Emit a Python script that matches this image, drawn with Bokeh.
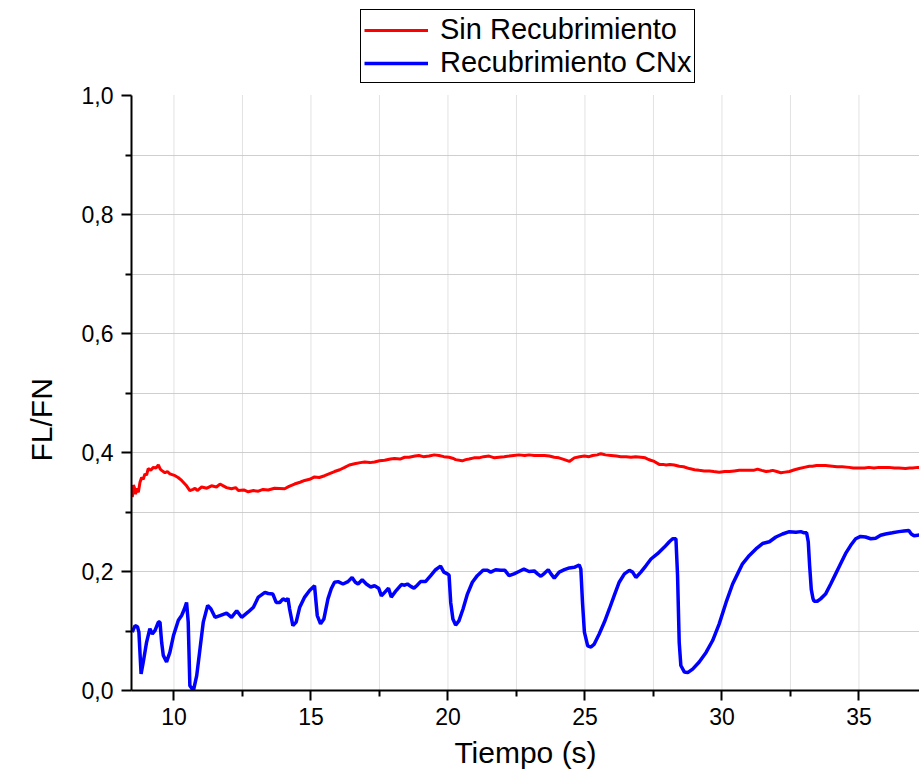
from bokeh.plotting import figure
from bokeh.models import (Range1d, FixedTicker, Legend, LegendItem, Title)
from bokeh.embed import file_html
from bokeh.resources import INLINE

# Friction coefficient (FL/FN) versus time for the two samples
t_sin = [8.48, 8.52, 8.55, 8.60, 8.64, 8.70, 8.76, 8.82, 8.88, 8.94, 9.00, 9.06, 9.15, 9.25,
         9.35, 9.43, 9.50, 9.55, 9.67, 9.76, 9.85, 10.04, 10.15, 10.28, 10.46, 10.58, 10.70,
         10.77, 10.85, 11.01, 11.20, 11.37, 11.55, 11.68, 11.80, 11.92, 12.10, 12.25, 12.35,
         12.55, 12.71, 12.90, 13.08, 13.25, 13.44, 13.67, 14.04, 14.20, 14.40, 14.60, 14.77,
         14.95, 15.13, 15.30, 15.50, 15.70, 15.86, 16.05, 16.23, 16.40, 16.59, 16.80, 16.96,
         17.15, 17.32, 17.50, 17.69, 17.90, 18.05, 18.25, 18.42, 18.58, 18.80, 18.94, 19.10,
         19.31, 19.50, 19.67, 19.85, 20.04, 20.20, 20.28, 20.52, 20.65, 20.77, 20.95, 21.13,
         21.30, 21.50, 21.70, 21.86, 22.05, 22.23, 22.40, 22.59, 22.80, 22.96, 23.15, 23.35,
         23.52, 23.70, 23.88, 24.05, 24.25, 24.43, 24.61, 24.80, 24.98, 25.15, 25.28, 25.45,
         25.58, 25.75, 25.95, 26.15, 26.31, 26.50, 26.68, 26.85, 27.04, 27.20, 27.29, 27.40,
         27.53, 27.71, 27.85, 27.96, 28.10, 28.26, 28.44, 28.60, 28.81, 29.00, 29.17, 29.35,
         29.54, 29.70, 29.90, 30.10, 30.27, 30.45, 30.63, 30.80, 31.00, 31.15, 31.30, 31.45,
         31.61, 31.75, 31.85, 32.00, 32.15, 32.30, 32.46, 32.65, 32.82, 33.00, 33.19, 33.30,
         33.45, 33.54, 33.78, 34.03, 34.20, 34.39, 34.64, 34.80, 35.00, 35.20, 35.36, 35.55,
         35.73, 35.90, 36.09, 36.30, 36.46, 36.70, 36.85, 36.95, 37.15, 37.30]
fl_sin = [0.325, 0.345, 0.342, 0.330, 0.340, 0.333, 0.350, 0.358, 0.355, 0.364, 0.362, 0.373,
          0.370, 0.375, 0.374, 0.379, 0.372, 0.370, 0.366, 0.368, 0.364, 0.361, 0.358, 0.353,
          0.344, 0.336, 0.338, 0.340, 0.336, 0.342, 0.340, 0.344, 0.342, 0.347, 0.344, 0.341,
          0.339, 0.341, 0.336, 0.337, 0.334, 0.336, 0.335, 0.338, 0.337, 0.340, 0.339, 0.343,
          0.347, 0.350, 0.353, 0.355, 0.359, 0.358, 0.361, 0.365, 0.368, 0.371, 0.375, 0.379,
          0.381, 0.383, 0.384, 0.383, 0.384, 0.386, 0.387, 0.389, 0.390, 0.389, 0.392, 0.392,
          0.394, 0.395, 0.393, 0.394, 0.396, 0.395, 0.393, 0.392, 0.390, 0.388, 0.386, 0.388,
          0.389, 0.391, 0.391, 0.393, 0.394, 0.391, 0.392, 0.393, 0.394, 0.395, 0.396, 0.395,
          0.396, 0.395, 0.395, 0.395, 0.394, 0.392, 0.391, 0.388, 0.385, 0.391, 0.393, 0.394,
          0.393, 0.395, 0.396, 0.398, 0.396, 0.395, 0.394, 0.393, 0.393, 0.392, 0.393, 0.392,
          0.391, 0.389, 0.387, 0.385, 0.380, 0.380, 0.379, 0.380, 0.379, 0.377, 0.376, 0.373,
          0.371, 0.370, 0.369, 0.369, 0.368, 0.367, 0.368, 0.368, 0.369, 0.370, 0.370, 0.370,
          0.370, 0.372, 0.370, 0.368, 0.369, 0.370, 0.368, 0.366, 0.367, 0.368, 0.371, 0.373,
          0.375, 0.377, 0.377, 0.378, 0.378, 0.378, 0.377, 0.376, 0.376, 0.375, 0.374, 0.374,
          0.374, 0.375, 0.374, 0.375, 0.375, 0.375, 0.374, 0.374, 0.373, 0.374, 0.374, 0.375,
          0.375]

t_cnx = [8.48, 8.53, 8.58, 8.67, 8.72, 8.80, 8.88, 9.00, 9.12, 9.21, 9.31, 9.43, 9.49, 9.55,
         9.61, 9.73, 9.85, 9.98, 10.16, 10.28, 10.38, 10.46, 10.52, 10.58, 10.71, 10.83, 10.95,
         11.07, 11.23, 11.35, 11.50, 11.68, 11.92, 12.10, 12.29, 12.47, 12.71, 12.90, 13.08,
         13.32, 13.44, 13.61, 13.73, 13.86, 13.98, 14.10, 14.16, 14.22, 14.34, 14.46, 14.59,
         14.77, 14.95, 15.13, 15.23, 15.35, 15.47, 15.62, 15.74, 15.86, 15.99, 16.17, 16.35,
         16.50, 16.62, 16.72, 16.87, 17.02, 17.18, 17.32, 17.47, 17.57, 17.69, 17.83, 17.93,
         18.11, 18.30, 18.42, 18.52, 18.64, 18.76, 18.88, 19.00, 19.18, 19.37, 19.55, 19.73,
         19.85, 19.98, 20.04, 20.10, 20.18, 20.28, 20.40, 20.55, 20.71, 20.89, 21.07, 21.28,
         21.44, 21.56, 21.74, 21.92, 22.08, 22.23, 22.41, 22.59, 22.77, 22.96, 23.15, 23.27,
         23.39, 23.52, 23.66, 23.76, 23.88, 24.06, 24.25, 24.43, 24.61, 24.79, 24.85, 24.91,
         24.98, 25.10, 25.22, 25.34, 25.52, 25.71, 25.89, 26.07, 26.25, 26.44, 26.62, 26.74,
         26.86, 27.04, 27.23, 27.41, 27.65, 27.90, 28.08, 28.20, 28.32, 28.38, 28.44, 28.50,
         28.63, 28.75, 28.93, 29.17, 29.42, 29.66, 29.90, 30.15, 30.39, 30.57, 30.75, 31.00,
         31.24, 31.48, 31.73, 31.97, 32.21, 32.46, 32.70, 32.88, 33.00, 33.09, 33.15, 33.20,
         33.26, 33.32, 33.36, 33.48, 33.60, 33.78, 33.97, 34.15, 34.33, 34.51, 34.70, 34.88,
         35.06, 35.24, 35.43, 35.61, 35.79, 35.97, 36.22, 36.46, 36.64, 36.82, 36.91, 37.01,
         37.15, 37.30]
fl_cnx = [0.098, 0.104, 0.109, 0.107, 0.098, 0.028, 0.048, 0.081, 0.104, 0.095, 0.101, 0.115,
          0.115, 0.081, 0.059, 0.048, 0.064, 0.092, 0.118, 0.126, 0.137, 0.148, 0.115, 0.008,
          0.000, 0.025, 0.070, 0.115, 0.143, 0.137, 0.123, 0.126, 0.130, 0.123, 0.134, 0.123,
          0.132, 0.140, 0.157, 0.165, 0.163, 0.162, 0.148, 0.148, 0.154, 0.151, 0.155, 0.137,
          0.109, 0.115, 0.140, 0.157, 0.168, 0.176, 0.126, 0.112, 0.120, 0.154, 0.171, 0.182,
          0.183, 0.179, 0.183, 0.190, 0.182, 0.179, 0.186, 0.179, 0.174, 0.176, 0.172, 0.159,
          0.165, 0.172, 0.157, 0.168, 0.178, 0.177, 0.179, 0.175, 0.172, 0.177, 0.183, 0.183,
          0.193, 0.203, 0.209, 0.199, 0.196, 0.194, 0.148, 0.120, 0.110, 0.117, 0.137, 0.162,
          0.182, 0.193, 0.202, 0.202, 0.199, 0.203, 0.202, 0.202, 0.193, 0.196, 0.200, 0.204,
          0.200, 0.201, 0.196, 0.192, 0.197, 0.203, 0.196, 0.189, 0.199, 0.203, 0.206, 0.207,
          0.211, 0.204, 0.148, 0.098, 0.075, 0.073, 0.078, 0.095, 0.115, 0.137, 0.160, 0.182,
          0.196, 0.202, 0.199, 0.190, 0.199, 0.210, 0.221, 0.230, 0.241, 0.250, 0.255, 0.255,
          0.193, 0.081, 0.042, 0.031, 0.030, 0.036, 0.048, 0.064, 0.084, 0.112, 0.148, 0.179,
          0.196, 0.213, 0.227, 0.238, 0.247, 0.250, 0.258, 0.263, 0.267, 0.266, 0.267, 0.265,
          0.265, 0.250, 0.210, 0.170, 0.155, 0.150, 0.150, 0.154, 0.162, 0.179, 0.196, 0.213,
          0.230, 0.244, 0.255, 0.259, 0.258, 0.255, 0.256, 0.261, 0.263, 0.265, 0.267, 0.268,
          0.269, 0.263, 0.260, 0.261, 0.262]

series_labels = ["Sin Recubrimiento", "Recubrimiento CNx"]
x_ticks = [10, 15, 20, 25, 30, 35]
x_minor = [12.5, 17.5, 22.5, 27.5, 32.5, 37.5]
y_ticks = [0.0, 0.2, 0.4, 0.6, 0.8, 1.0]
y_minor = [0.1, 0.3, 0.5, 0.7, 0.9]
y_tick_labels = ["0,0", "0,2", "0,4", "0,6", "0,8", "1,0"]

FONT = "Liberation Sans"

# The data area runs from 0 to 1; the range above 1 leaves room for the legend
Y_TOP = 1.0 + 95.0 / 595.0

p = figure(width=919, height=776, output_backend="svg", toolbar_location=None,
           x_range=Range1d(8.45, 37.21), y_range=Range1d(0, Y_TOP),
           min_border_left=131, min_border_right=0, min_border_top=0,
           min_border_bottom=86)
p.outline_line_color = None
p.background_fill_color = "white"
p.border_fill_color = "white"

# axes
p.xaxis.ticker = FixedTicker(ticks=x_ticks, minor_ticks=x_minor)
p.yaxis.ticker = FixedTicker(ticks=y_ticks, minor_ticks=y_minor)
p.yaxis.bounds = (0, 1.0)
p.yaxis.major_label_overrides = {v: s for v, s in zip(y_ticks, y_tick_labels)}
for ax in (p.xaxis, p.yaxis):
    ax.axis_line_width = 2
    ax.axis_line_color = "black"
    ax.major_tick_line_width = 2
    ax.minor_tick_line_width = 2
    ax.major_tick_in = 0
    ax.minor_tick_in = 0
    ax.major_tick_out = 10
    ax.minor_tick_out = 6
    ax.major_label_text_font = FONT
    ax.major_label_text_font_size = "23px"
    ax.major_label_text_color = "black"
    ax.axis_label_text_font = FONT
    ax.axis_label_text_font_size = "30px"
    ax.axis_label_text_font_style = "normal"
    ax.axis_label_text_color = "black"
p.xaxis.axis_label = "Tiempo (s)"
p.xaxis.major_label_standoff = 7
p.yaxis.major_label_standoff = 8
p.xaxis.axis_label_standoff = 8

# y-axis title, centred on the 0-1 data span rather than on the whole frame
p.add_layout(Title(text="FL/FN", align="left", offset=229, standoff=40,
                   vertical_align="middle", text_font=FONT, text_font_size="30px",
                   text_font_style="normal", text_color="black"), "left")

# grid: solid horizontals every 0.1 below the top, dotted verticals every 2.5 s
p.xgrid.visible = False
p.ygrid.ticker = FixedTicker(ticks=y_ticks[1:-1], minor_ticks=y_minor)
p.ygrid.grid_line_color = "#cfcfcf"
p.ygrid.minor_grid_line_color = "#cfcfcf"
grid_x = sorted(x_ticks + x_minor)
p.segment(x0=grid_x, y0=[0] * len(grid_x), x1=grid_x, y1=[1.0] * len(grid_x),
          line_color="#c4c4c4", line_width=1, line_dash="1 1")

r_sin = p.line(t_sin, fl_sin, line_color="#ff0000", line_width=3)
r_cnx = p.line(t_cnx, fl_cnx, line_color="#0000ff", line_width=3.5)

legend = Legend(items=[LegendItem(label=series_labels[0], renderers=[r_sin]),
                       LegendItem(label=series_labels[1], renderers=[r_cnx])],
                location=(229, 607), orientation="vertical",
                label_text_font=FONT, label_text_font_size="29px",
                label_text_color="black",
                glyph_width=64, glyph_height=30, label_height=30,
                label_standoff=12, spacing=0, padding=3, margin=0,
                border_line_color="black", border_line_width=1.2,
                border_line_alpha=1.0, background_fill_alpha=1.0)
p.add_layout(legend, "center")

open("out.html", "w").write(file_html(p, INLINE))
